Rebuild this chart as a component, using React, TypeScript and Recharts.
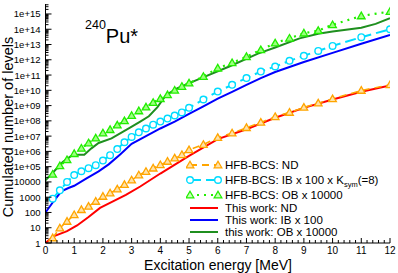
import React from "react";
import { LineChart, Line, XAxis, YAxis, Legend } from "recharts";

// energy grid of the HFB-BCS tables (MeV)
const E_HFB = [0.25, 0.5, 0.75, 1, 1.25, 1.5, 1.75, 2, 2.25, 2.5, 2.75, 3, 3.25, 3.5, 3.75, 4, 4.25, 4.5, 4.75, 5, 5.5, 6, 6.5, 7, 7.5, 8, 8.5, 9, 9.5, 10, 11, 12];
// log10 of cumulated number of levels
const HFB_ND = [0.33, 0.98, 1.41, 1.85, 2.18, 2.4, 2.72, 3.05, 3.27, 3.53, 3.82, 4.12, 4.45, 4.68, 4.9, 5.12, 5.34, 5.56, 5.78, 6.1, 6.45, 6.9, 7.2, 7.55, 7.9, 8.27, 8.55, 8.88, 9.16, 9.44, 9.99, 10.36];
const HFB_IB = [2.9, 3.45, 4.0, 4.45, 4.7, 4.9, 5.1, 5.4, 5.75, 6.15, 6.6, 6.95, 7.25, 7.5, 7.75, 7.95, 8.15, 8.35, 8.55, 8.85, 9.4, 9.92, 10.36, 10.8, 11.23, 11.56, 11.93, 12.26, 12.58, 12.91, 13.48, 14.0];
const HFB_OB = [4.5, 5.05, 5.45, 5.85, 6.2, 6.55, 6.87, 7.2, 7.42, 7.72, 8.0, 8.35, 8.65, 8.9, 9.2, 9.45, 9.7, 10.0, 10.25, 10.47, 10.9, 11.45, 11.8, 12.2, 12.65, 13.09, 13.41, 13.74, 13.91, 14.29, 14.87, 15.16];

const E_ND = [0, 0.3, 0.75, 1.1, 1.5, 1.9, 2.35, 2.8, 3.3, 4, 5, 6, 7, 8, 9, 10, 11, 12];
const WORK_ND = [0, 0.45, 0.78, 1.15, 1.7, 2.3, 2.72, 3.15, 3.7, 4.55, 5.7, 6.8, 7.45, 8.2, 8.85, 9.4, 9.9, 10.32];

const E_IB = [0, 0.27, 0.55, 0.8, 1.0, 1.4, 1.85, 2.2, 2.6, 3.0, 3.5, 4, 4.5, 5, 5.5, 6, 6.5, 7, 7.5, 8, 9, 10, 11, 12];
const WORK_IB = [2.0, 2.7, 3.38, 3.6, 3.75, 4.2, 4.69, 5.15, 5.8, 6.5, 7.0, 7.5, 7.95, 8.45, 8.95, 9.45, 9.9, 10.35, 10.8, 11.2, 11.85, 12.45, 13.05, 13.63];

const E_OB = [0, 0.3, 0.6, 0.95, 1.35, 1.6, 1.85, 2.3, 2.9, 3.3, 3.6, 3.9, 4.2, 4.6, 5.3, 6.4, 7.4, 8.0, 8.85, 9.5, 10, 11, 11.5, 12];
const WORK_OB = [4.1, 4.7, 5.3, 5.78, 5.78, 6.2, 6.55, 6.85, 7.5, 7.95, 8.3, 8.9, 9.7, 10.15, 10.7, 11.56, 12.4, 12.8, 13.4, 13.7, 13.85, 14.1, 14.35, 14.72];

const Y_MAX = 4.5e15;
const X_TICKS = Array.from({ length: 61 }, (_, i) => i / 5);
const Y_TICKS: number[] = [];
for (let k = 0; k <= 15; k++) {
  for (let m = 1; m <= 9; m++) {
    const v = m * Math.pow(10, k);
    if (v <= Y_MAX) Y_TICKS.push(v);
  }
}

const FONT = "'Liberation Sans', Arial, Helvetica, sans-serif";
const ORANGE = "#ffa500";
const CYAN = "#00dcff";
const LIME = "#22ee00";
const DKGREEN = "#1f8f1f";

const pts = (xs: number[], ys: number[]) => xs.map((x, i) => ({ x, y: Math.pow(10, ys[i]) }));

const isMajorX = (v: number) => Math.abs(v - Math.round(v)) < 1e-6;
const isMajorY = (v: number) => Math.abs(Math.log10(v) - Math.round(Math.log10(v))) < 1e-6;

const yLabel = (v: number) => {
  const k = Math.round(Math.log10(v));
  if (k < 5) return String(Math.pow(10, k));
  return "1e+" + (k < 10 ? "0" + k : String(k));
};

const XTickBottom = (props: any) => {
  const { x, y, payload } = props;
  const major = isMajorX(payload.value);
  return (
    <g>
      <line x1={x} x2={x} y1={y} y2={y - (major ? 5 : 3)} stroke="#000" />
      {major && (
        <text x={x} y={y + 11} textAnchor="middle" fontSize={10} fontFamily={FONT} fill="#000">
          {Math.round(payload.value)}
        </text>
      )}
    </g>
  );
};

const XTickTop = (props: any) => {
  const { x, y, payload } = props;
  const major = isMajorX(payload.value);
  return <line x1={x} x2={x} y1={y} y2={y + (major ? 5 : 3)} stroke="#000" />;
};

const YTickLeft = (props: any) => {
  const { x, y, payload } = props;
  const major = isMajorY(payload.value);
  return (
    <g>
      <line x1={x} x2={x + (major ? 6 : 3)} y1={y} y2={y} stroke="#000" />
      {major && (
        <text x={x - 5} y={y + 3.5} textAnchor="end" fontSize={9.5} fontFamily={FONT} fill="#000">
          {yLabel(payload.value)}
        </text>
      )}
    </g>
  );
};

const YTickRight = (props: any) => {
  const { x, y, payload } = props;
  const major = isMajorY(payload.value);
  return <line x1={x} x2={x - (major ? 6 : 3)} y1={y} y2={y} stroke="#000" />;
};

const Tri = ({ cx, cy, color, fill }: any) => (
  <path
    d={`M${cx},${cy - 3.8} L${cx + 3.8},${cy + 2.8} L${cx - 3.8},${cy + 2.8} Z`}
    fill={fill}
    stroke={color}
    strokeWidth={1.3}
  />
);

const Circ = ({ cx, cy }: any) => <circle cx={cx} cy={cy} r={3.3} fill="#fff" stroke={CYAN} strokeWidth={1.4} />;

const triDot = (color: string, fill: string) => (p: any) =>
  <Tri key={`t-${color}-${p.index}`} cx={p.cx} cy={p.cy} color={color} fill={fill} />;
const circDot = (p: any) => <Circ key={`c-${p.index}`} cx={p.cx} cy={p.cy} />;

const LegendBox = () => {
  const rows = [
    { y: 8, kind: "tri", color: ORANGE, fill: "#ffe2a8", dash: "7 5", text: <tspan>HFB-BCS: ND</tspan> },
    {
      y: 23,
      kind: "circ",
      color: CYAN,
      dash: "11 5",
      text: (
        <>
          <tspan>HFB-BCS: IB x 100 x K</tspan>
          <tspan fontSize={7.5} dy={3}>sym</tspan>
          <tspan dy={-3}>(=8)</tspan>
        </>
      ),
    },
    { y: 38, kind: "tri", color: LIME, fill: "#c8ffb8", dash: "2 5", text: <tspan>HFB-BCS: OB x 10000</tspan> },
    { y: 51, kind: "line", color: "#ff0000", text: <tspan>This work: ND</tspan> },
    { y: 63, kind: "line", color: "#0000ff", text: <tspan>This work: IB x 100</tspan> },
    { y: 75, kind: "line", color: DKGREEN, text: <tspan>this work: OB x 10000</tspan> },
  ];
  return (
    <svg width={205} height={84} style={{ display: "block" }}>
      {rows.map((r, i) => (
        <g key={i}>
          <line
            x1={4}
            x2={32}
            y1={r.y}
            y2={r.y}
            stroke={r.color}
            strokeWidth={2}
            strokeDasharray={r.dash}
          />
          {r.kind === "tri" && (
            <>
              <Tri cx={4} cy={r.y} color={r.color} fill={r.fill} />
              <Tri cx={32} cy={r.y} color={r.color} fill={r.fill} />
            </>
          )}
          {r.kind === "circ" && (
            <>
              <Circ cx={4} cy={r.y} />
              <Circ cx={32} cy={r.y} />
            </>
          )}
          <text x={39} y={r.y + 4} fontSize={11.5} fontFamily={FONT} fill="#000">
            {r.text}
          </text>
        </g>
      ))}
    </svg>
  );
};

export default function App() {
  return (
    <div style={{ position: "absolute", left: 0, top: 0, width: 398, height: 273, background: "#fff" }}>
      <LineChart width={398} height={273} margin={{ top: 4, right: 8, left: 0, bottom: 0 }}>
        <XAxis
          dataKey="x"
          type="number"
          domain={[0, 12]}
          ticks={X_TICKS}
          interval={0}
          height={30}
          tickSize={0}
          tickMargin={0}
          tickLine={false}
          tick={<XTickBottom />}
          axisLine={{ stroke: "#000" }}
          allowDataOverflow
          label={() => (
            <text x={218} y={270} textAnchor="middle" fontSize={14} fontFamily={FONT} fill="#000">
              Excitation energy [MeV]
            </text>
          )}
        />
        <XAxis
          xAxisId="top"
          orientation="top"
          dataKey="x"
          type="number"
          domain={[0, 12]}
          ticks={X_TICKS}
          interval={0}
          height={0}
          tickSize={0}
          tickMargin={0}
          tickLine={false}
          tick={<XTickTop />}
          axisLine={{ stroke: "#000" }}
        />
        <YAxis
          scale="log"
          type="number"
          domain={[1, Y_MAX]}
          ticks={Y_TICKS}
          interval={0}
          width={45.5}
          tickSize={0}
          tickMargin={0}
          tickLine={false}
          tick={<YTickLeft />}
          axisLine={{ stroke: "#000" }}
          allowDataOverflow
          label={() => (
            <text
              transform="translate(13,127) rotate(-90)"
              textAnchor="middle"
              fontSize={14.5}
              fontFamily={FONT}
              fill="#000"
            >
              Cumulated number of levels
            </text>
          )}
        />
        <YAxis
          yAxisId="right"
          orientation="right"
          scale="log"
          type="number"
          domain={[1, Y_MAX]}
          ticks={Y_TICKS}
          interval={0}
          width={0}
          tickSize={0}
          tickMargin={0}
          tickLine={false}
          tick={<YTickRight />}
          axisLine={{ stroke: "#000" }}
          allowDataOverflow
        />
        <Legend
          layout="vertical"
          align="center"
          verticalAlign="middle"
          wrapperStyle={{ left: 186, top: 157, width: 205 }}
          content={() => <LegendBox />}
        />
        <Line
          data={pts(E_ND, WORK_ND)}
          dataKey="y"
          stroke="#ff0000"
          strokeWidth={2}
          dot={false}
          isAnimationActive={false}
        />
        <Line
          data={pts(E_IB, WORK_IB)}
          dataKey="y"
          stroke="#0000ff"
          strokeWidth={2}
          dot={false}
          isAnimationActive={false}
        />
        <Line
          data={pts(E_OB, WORK_OB)}
          dataKey="y"
          stroke={DKGREEN}
          strokeWidth={2}
          dot={false}
          isAnimationActive={false}
        />
        <Line
          data={pts(E_HFB, HFB_ND)}
          dataKey="y"
          stroke={ORANGE}
          strokeWidth={1.5}
          strokeDasharray="7 5"
          dot={triDot(ORANGE, "#ffe2a8")}
          isAnimationActive={false}
        />
        <Line
          data={pts(E_HFB, HFB_IB)}
          dataKey="y"
          stroke={CYAN}
          strokeWidth={2}
          strokeDasharray="11 5"
          dot={circDot}
          isAnimationActive={false}
        />
        <Line
          data={pts(E_HFB, HFB_OB)}
          dataKey="y"
          stroke={LIME}
          strokeWidth={2.2}
          strokeDasharray="2 5"
          dot={triDot(LIME, "#9cff80")}
          isAnimationActive={false}
        />
      </LineChart>
      <svg
        width={80}
        height={50}
        style={{ position: "absolute", left: 0, top: 0, overflow: "visible", pointerEvents: "none" }}
      >
        <text x={85} y={43} fontFamily={FONT} fill="#000">
          <tspan fontSize={12.5} dy={-14}>240</tspan>
          <tspan fontSize={20} dy={14}>Pu*</tspan>
        </text>
      </svg>
    </div>
  );
}
